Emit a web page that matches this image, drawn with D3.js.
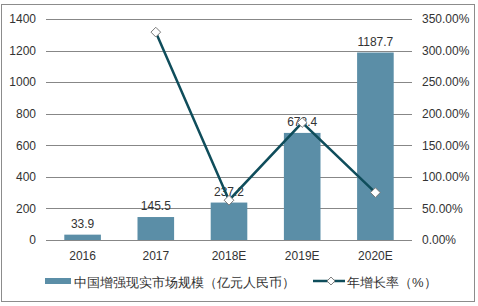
<!DOCTYPE html>
<html><head><meta charset="utf-8">
<script src="https://cdn.jsdelivr.net/npm/d3@7/dist/d3.min.js"></script>
<style>
html,body{margin:0;padding:0;background:#fff;}
svg{display:block;}
text{font-family:"Liberation Sans",Arial,sans-serif;}
</style></head><body>
<svg id="c" width="478" height="306"></svg>
<script>
const categories = ["2016","2017","2018E","2019E","2020E"];
const marketSize = [33.9,145.5,237.2,678.4,1187.7];
const growthRate = [null,329.2,63.0,186.0,75.1];
const leftTicks = [0,200,400,600,800,1000,1200,1400];
const rightTicks = [0,50,100,150,200,250,300,350];
const seriesNames = ["中国增强现实市场规模（亿元人民币）","年增长率（%）"];

const svg = d3.select("#c");
const W = 478, H = 306;
const plot = {left:46, right:412, top:19, bottom:240};

svg.append("rect").attr("x",1.5).attr("y",4.5).attr("width",473).attr("height",297)
  .attr("fill","#fff").attr("stroke","#8c8c8c").attr("stroke-width",1);

const x = d3.scaleBand().domain(categories).range([plot.left,plot.right]).paddingInner(0.5).paddingOuter(0.25);
const yL = d3.scaleLinear().domain([0,1400]).range([plot.bottom,plot.top]);
const yR = d3.scaleLinear().domain([0,350]).range([plot.bottom,plot.top]);

// gridlines
const gGrid = svg.append("g");
gGrid.selectAll("line").data(leftTicks).enter().append("line")
  .attr("x1",plot.left).attr("x2",plot.right)
  .attr("y1",d=>Math.round(yL(d))+0.5).attr("y2",d=>Math.round(yL(d))+0.5)
  .attr("stroke","#878787").attr("stroke-width",1);

// left axis
const axL = d3.axisLeft(yL).tickValues(leftTicks).tickSize(0).tickPadding(10).tickFormat(d3.format("d"));
const gL = svg.append("g").attr("transform",`translate(${plot.left},0)`).call(axL);
gL.select(".domain").remove();
gL.selectAll("text").attr("font-size",12).attr("fill","#333").attr("font-family","Liberation Sans, Arial, sans-serif");

// right axis
const axR = d3.axisRight(yR).tickValues(rightTicks).tickSize(0).tickPadding(10).tickFormat(d=>d.toFixed(2)+"%");
const gR = svg.append("g").attr("transform",`translate(${plot.right},0)`).call(axR);
gR.select(".domain").remove();
gR.selectAll("text").attr("font-size",12).attr("fill","#333").attr("font-family","Liberation Sans, Arial, sans-serif");

// bottom axis
const axB = d3.axisBottom(x).tickSize(0).tickPadding(11);
const gB = svg.append("g").attr("transform",`translate(0,${plot.bottom})`).call(axB);
gB.select(".domain").remove();
gB.selectAll("text").attr("font-size",12).attr("fill","#333").attr("font-family","Liberation Sans, Arial, sans-serif");

const barColor = "#5b8ea7";
const lineColor = "#0f4d5b";

// bars
svg.append("g").selectAll("rect").data(marketSize).enter().append("rect")
  .attr("x",(d,i)=>x(categories[i])).attr("width",x.bandwidth())
  .attr("y",d=>yL(d)).attr("height",d=>plot.bottom-yL(d))
  .attr("fill",barColor);

// bar labels
svg.append("g").selectAll("text").data(marketSize).enter().append("text")
  .attr("x",(d,i)=>x(categories[i])+x.bandwidth()/2)
  .attr("y",d=>yL(d)-7)
  .attr("text-anchor","middle").attr("font-size",12).attr("fill","#333")
  .text(d=>d);

// line
const pts = growthRate.map((v,i)=>({c:categories[i],v})).filter(d=>d.v!==null);
const line = d3.line().x(d=>x(d.c)+x.bandwidth()/2).y(d=>yR(d.v));
svg.append("path").datum(pts).attr("d",line).attr("fill","none")
  .attr("stroke",lineColor).attr("stroke-width",2.5);
const diamond = d3.symbol().type(d3.symbolDiamond2).size(60);
svg.append("g").selectAll("path").data(pts).enter().append("path")
  .attr("d",diamond)
  .attr("transform",d=>`translate(${x(d.c)+x.bandwidth()/2},${yR(d.v)})`)
  .attr("fill","#fff").attr("stroke","#7a7a7a").attr("stroke-width",1);

// legend
const lg = svg.append("g");
lg.append("rect").attr("x",45).attr("y",278).attr("width",26).attr("height",6).attr("fill",barColor);
lg.append("text").attr("x",74).attr("y",286.5).attr("font-size",13).attr("fill","#333")
  .attr("font-family","Noto Sans CJK SC, sans-serif").text(seriesNames[0]);
lg.append("line").attr("x1",313).attr("x2",345).attr("y1",281).attr("y2",281)
  .attr("stroke",lineColor).attr("stroke-width",2.5);
lg.append("path").attr("d",d3.symbol().type(d3.symbolDiamond2).size(40)).attr("transform","translate(331,281)")
  .attr("fill","#fff").attr("stroke","#7a7a7a").attr("stroke-width",1);
lg.append("text").attr("x",347).attr("y",286.5).attr("font-size",13).attr("fill","#333")
  .attr("font-family","Noto Sans CJK SC, sans-serif").text(seriesNames[1]);
</script>
</body></html>
